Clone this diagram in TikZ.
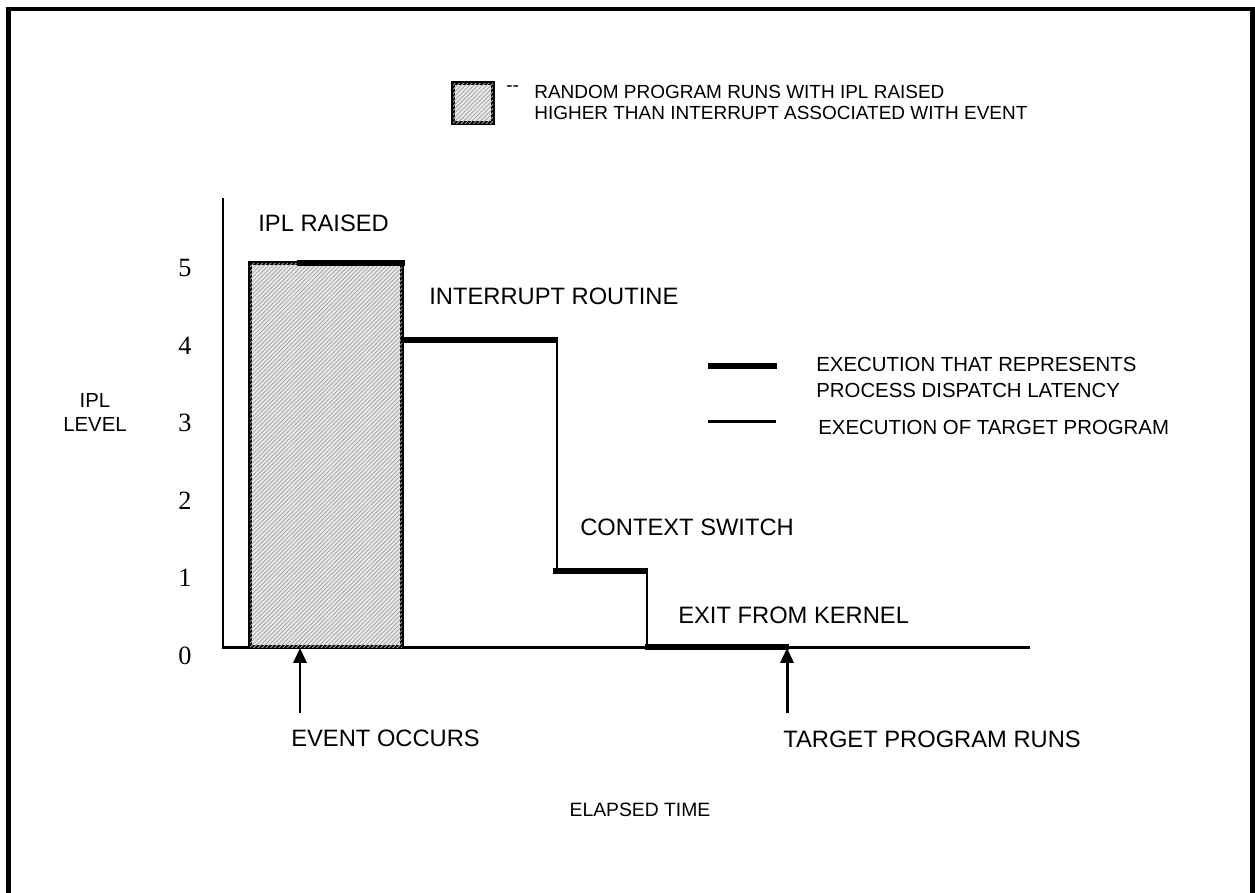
\documentclass[tikz,border=0pt]{standalone}
\usepackage{fontspec}
\setmainfont{Liberation Sans}
\newfontfamily\numfont{Liberation Serif}
\usetikzlibrary{patterns.meta,arrows.meta}

\tikzset{
	frameln/.style={line width=2.3pt, line join=miter},
	axisln/.style={line width=1.7pt},
	thinln/.style={line width=1.7pt},
	thickln/.style={line width=2.9pt},
	raisedbox/.style={line width=1.8pt, fill=black!8, postaction={pattern={Lines[angle=45,distance=1.7pt,line width=0.5pt]}, pattern color=black!35}},
	evarrow/.style={line width=1.7pt, -{Triangle[length=8.5pt,width=7.5pt]}},
	lbl/.style={inner sep=0pt, anchor=west, font=\fontsize{13.5}{16}\selectfont},
	keylbl/.style={inner sep=0pt, anchor=west, align=left, font=\fontsize{11.6}{15.3}\selectfont},
	smalllbl/.style={inner sep=0pt, anchor=west, align=left, font=\fontsize{10.8}{11.9}\selectfont},
	ticklbl/.style={inner sep=0pt, font=\numfont\fontsize{15}{18}\selectfont}
}

\begin{document}
\begin{tikzpicture}[x=0.02cm, y=-0.02cm]
			%%%%% START %%%%%
			\useasboundingbox (0, 0) rectangle (1255, 893);
			
			\draw[frameln] (8.5, 893) -- (8.5, 9) -- (1252.5, 9) -- (1252.5, 893);
			
			% legend for the shaded box
			\draw[raisedbox] (453, 83) rectangle (493, 123);
			\node[smalllbl] (dash) at (506, 89) {-{}-};
			\node[smalllbl] (randkey) at (534, 102.5) {RANDOM PROGRAM RUNS WITH IPL RAISED\\HIGHER THAN INTERRUPT ASSOCIATED WITH EVENT};
			
			% axes
			\draw[axisln] (223, 198) -- (223, 647) -- (1030, 647);
			\foreach \n in {0,...,5}
				\node[ticklbl] (tick\n) at (185, 655.5-77.5*\n) {\n};
			\node[inner sep=0pt, align=center, font=\fontsize{11.6}{14.2}\selectfont] (ipllevel) at (95, 412.5) {IPL\\LEVEL};
			
			% shaded part
			\draw[raisedbox] (250, 647) rectangle (402, 263);
			
			% steps
			\draw[thickln] (297, 263) -- (405, 263);
			\draw[thickln] (401, 340) -- (558, 340);
			\draw[thinln] (557, 340) -- (557, 571);
			\draw[thickln] (553, 571) -- (648, 571);
			\draw[thinln] (647, 571) -- (647, 647);
			\draw[thickln] (645, 647) -- (789, 647);
			
			\node[lbl] (raised) at (258, 223) {IPL RAISED};
			\node[lbl] (introut) at (429, 296) {INTERRUPT ROUTINE};
			\node[lbl] (ctxsw) at (580, 527) {CONTEXT SWITCH};
			\node[lbl] (exitk) at (678, 615) {EXIT FROM KERNEL};
			
			% key for the lines
			\draw[thickln] (708, 366) -- (777, 366);
			\node[keylbl] (latkey) at (816, 377.5) {EXECUTION THAT REPRESENTS\\PROCESS DISPATCH LATENCY};
			\draw[thinln] (708, 421) -- (776, 421);
			\node[keylbl] (tgtkey) at (818, 427) {EXECUTION OF TARGET PROGRAM};
			
			% events
			\node[lbl] (evocc) at (291, 738) {EVENT OCCURS};
			\node[lbl] (tgtruns) at (783, 739) {TARGET PROGRAM RUNS};
			\coordinate (evtail) at (300, 713);
			\coordinate (evtip) at (300, 648);
			\coordinate (tgttail) at (787, 713);
			\coordinate (tgttip) at (787, 648);
			\draw[evarrow] (evtail) -- (evtip);
			\draw[evarrow] (tgttail) -- (tgttip);
			
			\node[inner sep=0pt, font=\fontsize{11}{13}\selectfont] (elapsed) at (640, 810) {ELAPSED TIME};
			
			%%%%% END %%%%%
\end{tikzpicture}
\end{document}
